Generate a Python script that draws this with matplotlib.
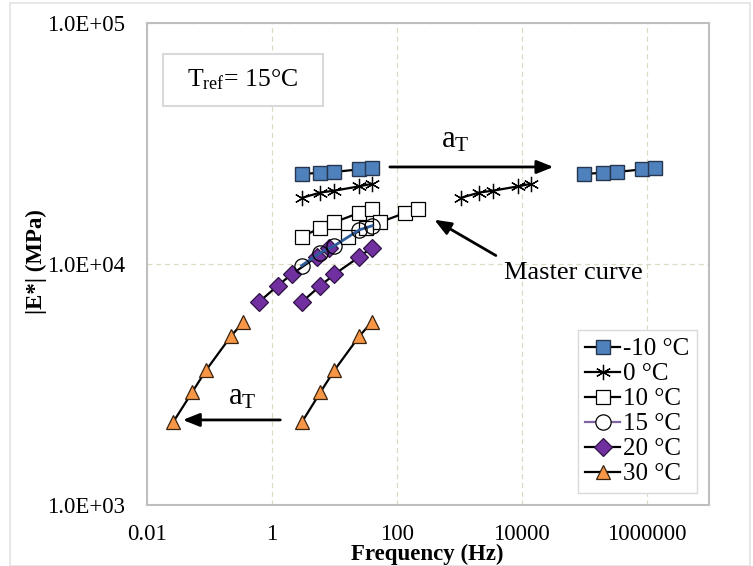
import matplotlib
matplotlib.use("Agg")
import matplotlib.pyplot as plt
from matplotlib.lines import Line2D
from matplotlib.patches import Rectangle
from matplotlib.ticker import FixedLocator, FixedFormatter, NullLocator

plt.rcParams['font.family'] = ['Liberation Serif', 'DejaVu Serif']
plt.rcParams['mathtext.fontset'] = 'custom'
plt.rcParams['mathtext.rm'] = 'Liberation Serif'
plt.rcParams['mathtext.it'] = 'Liberation Serif:italic'

# measured frequencies (Hz) and |E*| (MPa) at each temperature
freq = [3, 6, 10, 25, 40]
e_m10 = [23650, 23900, 24100, 24700, 24950]
e_0 = [18800, 19800, 20150, 21000, 21500]
e_10 = [13000, 14100, 14900, 16300, 16900]
e_15 = [9850, 11150, 11900, 13850, 14400]
e_20 = [6950, 8130, 9060, 10700, 11700]
e_30 = [2200, 2940, 3620, 5010, 5750]

# reduced frequencies after shifting to Tref = 15 C
fr_m10 = [1.0e5, 2.0e5, 3.4e5, 8.5e5, 1.36e6]
fr_0 = [1050, 2100, 3500, 8750, 14000]
fr_10 = [16.3, 32.5, 54, 136, 217]
fr_20 = [0.62, 1.24, 2.07, 5.2, 8.3]
fr_30 = [0.026, 0.053, 0.088, 0.22, 0.35]

x_ticks = [0.01, 1, 100, 10000, 1000000]
x_labels = ['0.01', '1', '100', '10000', '1000000']
y_ticks = [1e3, 1e4, 1e5]
y_labels = ['1.0E+03', '1.0E+04', '1.0E+05']

fig = plt.figure(figsize=(7.53, 5.66), dpi=100)
fig.patches.append(Rectangle((10 / 753, 0), 740 / 753, 563 / 566, transform=fig.transFigure,
                             fill=False, edgecolor='#E3E3E3', lw=1.2))
ax = fig.add_axes([147 / 753, 61 / 566, 562 / 753, 482 / 566])
ax.set_xscale('log')
ax.set_yscale('log')
ax.set_xlim(0.01, 1e7)
ax.set_ylim(1e3, 1e5)

blue = '#4F81BD'
purple = '#7030A0'
orange = '#F79646'
lw = 1.6

sq = dict(marker='s', ms=10, mfc=blue, mec='#26374F', mew=1.0, color='black', lw=lw)
st = dict(marker=(6, 2, 0), ms=11, mec='black', mew=0.9, color='black', lw=lw)
osq = dict(marker='s', ms=9.5, mfc='white', mec='black', mew=0.9, color='black', lw=lw)
dm = dict(marker='D', ms=9, mfc=purple, mec='#2E1444', mew=0.9, color='black', lw=lw)
tri = dict(marker='^', ms=10.5, mfc=orange, mec='#3A2410', mew=0.9, color='black', lw=lw)

ax.plot(freq, e_m10, **sq)
ax.plot(fr_m10, e_m10, **sq)
ax.plot(freq, e_0, **st)
ax.plot(fr_0, e_0, **st)
ax.plot(freq, e_10, **osq)
ax.plot(fr_10, e_10, **osq)
ax.plot(freq, e_20, **dm)
ax.plot(fr_20, e_20, **dm)
ax.plot(freq, e_30, **tri)
ax.plot(fr_30, e_30, **tri)
ax.plot(freq, e_15, color='#2E5C9A', lw=2, marker='o', ms=11, mfc='none', mec='black', mew=0.9)

ax.xaxis.set_major_locator(FixedLocator(x_ticks))
ax.xaxis.set_major_formatter(FixedFormatter(x_labels))
ax.xaxis.set_minor_locator(NullLocator())
ax.yaxis.set_major_locator(FixedLocator(y_ticks))
ax.yaxis.set_major_formatter(FixedFormatter(y_labels))
ax.yaxis.set_minor_locator(NullLocator())
ax.tick_params(axis='both', length=0, labelsize=16.5)
ax.tick_params(axis='x', pad=14)
ax.tick_params(axis='y', pad=16)
ax.grid(True, which='major', ls=(0, (4, 3)), color='#DDD9C3', lw=0.9)
for s in ax.spines.values():
    s.set_color('#BFBFBF')
    s.set_linewidth(1.5)

fig.text(427 / 753, 1 - 554 / 566, 'Frequency (Hz)', ha='center', va='center',
         fontsize=16.5, fontweight='bold')
fig.text(36 / 753, 1 - 262 / 566, '|E*| (MPa)', ha='center', va='center',
         rotation=90, fontsize=16.5, fontweight='bold')

# Tref box
ax.add_patch(Rectangle((0.028, 0.828), 0.285, 0.108, transform=ax.transAxes,
                       fill=True, facecolor='white', edgecolor='#D9D9D9', lw=1.5, zorder=3))
ax.text(0.171, 0.882, r'T$_{\mathrm{ref}}$= 15°C', transform=ax.transAxes,
        ha='center', va='center', fontsize=18.5, zorder=4)

arrow = dict(arrowstyle='-|>,head_length=1.0,head_width=0.4', color='black', lw=2)
ax.annotate('', xy=(35800, 25270), xytext=(70, 25270), arrowprops=arrow)
ax.text(863, 32700, r'a$_{\mathrm{T}}$', ha='center', va='center', fontsize=22)
ax.annotate('', xy=(0.0338, 2254), xytext=(1.51, 2254), arrowprops=arrow)
ax.text(0.333, 2806, r'a$_{\mathrm{T}}$', ha='center', va='center', fontsize=22)
ax.annotate('', xy=(365, 15470), xytext=(4220, 10700), arrowprops=arrow)
ax.text(67100, 9190, 'Master curve', ha='center', va='center', fontsize=19)

handles = [
    Line2D([], [], **sq),
    Line2D([], [], **st),
    Line2D([], [], **osq),
    Line2D([], [], color='#8064A2', lw=lw, marker='o', ms=11, mfc='white', mec='black', mew=0.9),
    Line2D([], [], **dm),
    Line2D([], [], **tri),
]
labels = ['-10 °C', '0 °C', '10 °C', '15 °C', '20 °C', '30 °C']
leg = ax.legend(handles, labels, loc='lower right', bbox_to_anchor=(0.978, 0.025),
                fontsize=18, frameon=True, fancybox=False, framealpha=1,
                edgecolor='#D9D9D9', handlelength=1.4, handletextpad=0.1,
                labelspacing=0.1, borderpad=0.3, borderaxespad=0)
leg.get_frame().set_linewidth(1.0)

fig.savefig('out.png', dpi=100)
